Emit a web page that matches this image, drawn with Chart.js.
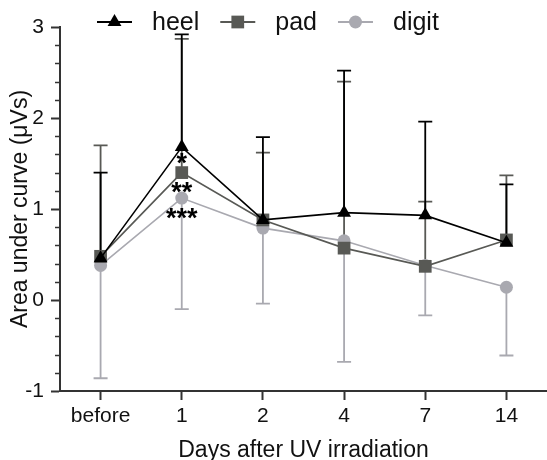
<!DOCTYPE html>
<html>
<head>
<meta charset="utf-8">
<script src="https://cdn.jsdelivr.net/npm/chart.js@4.4.1/dist/chart.umd.min.js"></script>
<style>
  html, body { margin: 0; padding: 0; background: #fff; }
  #wrap { width: 547px; height: 460px; }
</style>
</head>
<body>
<div id="wrap"><canvas id="graph" width="547" height="460"></canvas></div>
<script>
// datos
const days = ["before", "1", "2", "4", "7", "14"];
const seriesNames = ["heel", "pad", "digit"];
const heel = [0.46, 1.68, 0.88, 0.96, 0.93, 0.63];
const pad = [0.48, 1.40, 0.88, 0.57, 0.37, 0.66];
const digit = [0.38, 1.12, 0.79, 0.65, 0.38, 0.14];
// extremo de las barras de error (heel y pad hacia arriba, digit hacia abajo)
const heelTop = [1.40, 2.92, 1.79, 2.52, 1.96, 1.27];
const padTop = [1.70, 2.87, 1.62, 2.40, 1.08, 1.37];
const digitBottom = [-0.86, -0.10, -0.04, -0.68, -0.17, -0.61];
// significancia en el día 1 (heel, pad, digit)
const stars = ["*", "**", "***"];
const starIndex = 1;
const yMin = -1, yMax = 3;

const FONT = "'Liberation Sans', Arial, sans-serif";
const colors = ["#000000", "#585955", "#a9a9b0"];
const styles = ["triangle", "rect", "circle"];
const radii = [8, 9, 6.5];
const values = [heel, pad, digit];
const errEnds = [heelTop, padTop, digitBottom];

// barras de error, detrás de las líneas
const errorBars = {
  id: "errorBars",
  beforeDatasetsDraw(chart) {
    const ctx = chart.ctx, xs = chart.scales.x, ys = chart.scales.y;
    ctx.save();
    for (let s = values.length - 1; s >= 0; s--) {
      ctx.strokeStyle = colors[s];
      ctx.lineWidth = 1.8;
      values[s].forEach((v, i) => {
        const x = xs.getPixelForValue(i);
        const y0 = ys.getPixelForValue(v);
        const y1 = ys.getPixelForValue(errEnds[s][i]);
        ctx.beginPath();
        ctx.moveTo(x, y0); ctx.lineTo(x, y1);
        ctx.moveTo(x - 7, y1); ctx.lineTo(x + 7, y1);
        ctx.stroke();
      });
    }
    ctx.restore();
  },
  afterDatasetsDraw(chart) {
    const ctx = chart.ctx, xs = chart.scales.x, ys = chart.scales.y;
    ctx.save();
    ctx.fillStyle = "#000";
    ctx.font = "bold 27px " + FONT;
    ctx.textAlign = "center";
    ctx.textBaseline = "alphabetic";
    const offs = [13, 16, 17];
    stars.forEach((st, s) => {
      const x = xs.getPixelForValue(starIndex);
      const y = ys.getPixelForValue(values[s][starIndex]) + offs[s];
      ctx.fillText(st, x, y + 12);
    });
    ctx.restore();
  },
  afterDraw(chart) {
    const ctx = chart.ctx, ys = chart.scales.y;
    const left = chart.chartArea.left;
    ctx.save();
    // ticks menores del eje y
    ctx.strokeStyle = "#333";
    ctx.lineWidth = 1.5;
    for (let k = 1; k < (yMax - yMin) * 5; k++) {
      if (k % 5 === 0) continue;
      const y = Math.round(ys.getPixelForValue(yMin + k * 0.2)) + 0.5;
      ctx.beginPath();
      ctx.moveTo(left - 5, y); ctx.lineTo(left, y);
      ctx.stroke();
    }
    // leyenda: línea + marcador + texto
    ctx.font = "25px " + FONT;
    ctx.textBaseline = "middle";
    ctx.textAlign = "left";
    let x = 97;
    const y = 22;
    seriesNames.forEach((name, s) => {
      ctx.strokeStyle = colors[s];
      ctx.fillStyle = colors[s];
      ctx.lineWidth = 1.8;
      ctx.beginPath();
      ctx.moveTo(x, y); ctx.lineTo(x + 35, y);
      ctx.stroke();
      Chart.helpers.drawPoint(ctx, { pointStyle: styles[s], radius: radii[s], rotation: 0, borderWidth: 0 }, x + 17.5, y);
      ctx.fillStyle = "#111";
      ctx.fillText(name, x + 55, y + 1);
      x += 55 + ctx.measureText(name).width + 21;
    });
    ctx.restore();
  }
};

const config = {
  type: "line",
  data: {
    labels: days,
    datasets: seriesNames.map((name, s) => ({
      label: name,
      data: values[s],
      borderColor: colors[s],
      backgroundColor: colors[s],
      borderWidth: 1.6,
      pointStyle: styles[s],
      pointRadius: radii[s],
      pointBorderWidth: 0,
      pointBackgroundColor: colors[s],
      tension: 0,
      clip: false
    }))
  },
  options: {
    responsive: false,
    animation: false,
    layout: { autoPadding: false, padding: { top: 27, right: 0, left: 0, bottom: 0 } },
    plugins: { legend: { display: false }, tooltip: { enabled: false } },
    scales: {
      x: {
        offset: true,
        grid: { display: true, drawOnChartArea: false, offset: false, tickLength: 9, tickWidth: 2, tickColor: "#333" },
        border: { color: "#333", width: 2 },
        ticks: { color: "#111", padding: 4, font: { family: FONT, size: 21 } },
        title: { display: true, text: "Days after UV irradiation", color: "#111", padding: { top: 0, bottom: -2 }, font: { family: FONT, size: 23, lineHeight: 1.0 } },
        afterFit(scale) { scale.height = 69; }
      },
      y: {
        min: yMin,
        max: yMax,
        ticks: { stepSize: 1, color: "#111", padding: 7, font: { family: FONT, size: 21 } },
        grid: { drawOnChartArea: false, tickLength: 9, tickWidth: 2, tickColor: "#333" },
        border: { color: "#333", width: 2 },
        title: { display: true, text: "Area under curve (\u03bcVs)", color: "#111", padding: { top: 7, bottom: 0 }, font: { family: FONT, size: 23 } },
        afterFit(scale) { scale.width = 60; }
      }
    }
  },
  plugins: [errorBars]
};

window.myChart = new Chart(document.getElementById("graph"), config);
</script>
</body>
</html>
